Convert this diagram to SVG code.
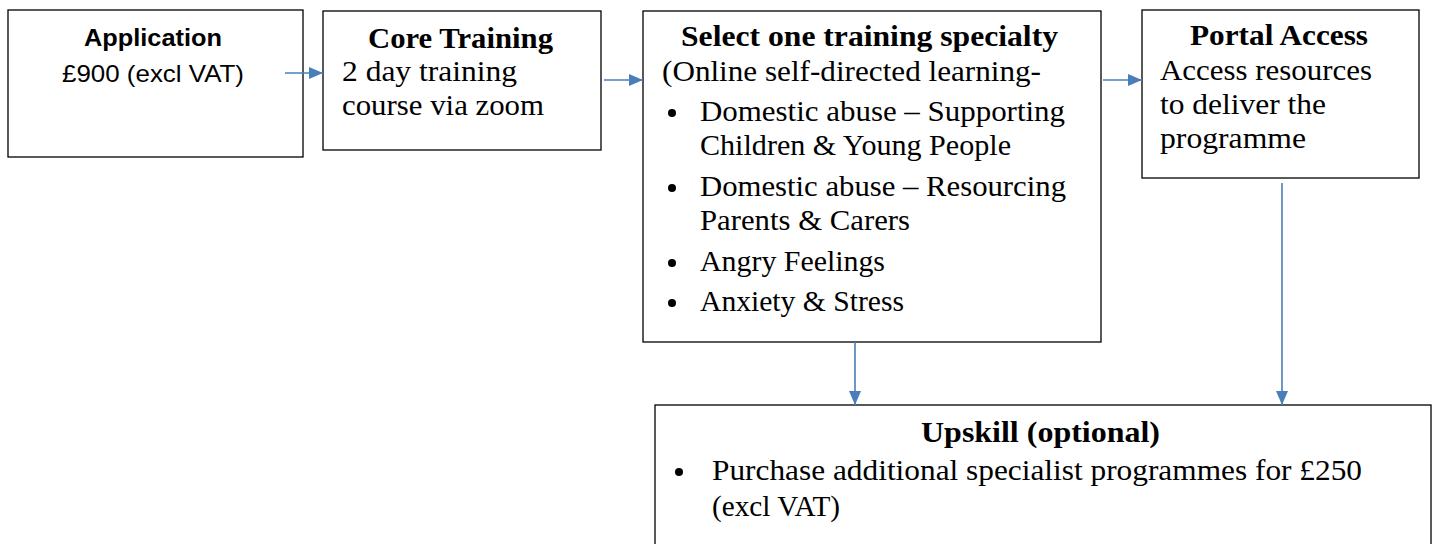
<svg xmlns="http://www.w3.org/2000/svg" width="1438" height="544" viewBox="0 0 1438 544">
<style>
.box{fill:#fff;stroke:#000;stroke-width:1.3}
.s{font-family:"Liberation Serif","DejaVu Serif",serif;font-size:29px;fill:#000}
.b{font-weight:bold}
.c{font-family:"Liberation Sans","DejaVu Sans",sans-serif;font-size:24px;fill:#000}
.con{stroke:#4A7EBB;stroke-width:1.6;fill:none;marker-end:url(#ah)}
</style>
<defs>
<marker id="ah" markerWidth="14" markerHeight="12" refX="14" refY="6" orient="auto" markerUnits="userSpaceOnUse">
<path d="M0,0 L14,6 L0,12 Z" fill="#4A7EBB"/>
</marker>
</defs>
<rect width="1438" height="544" fill="#fff"/>
<g id="application">
<rect class="box" x="8" y="10" width="295" height="147"/>
<text class="c b" x="84" y="46" textLength="138" lengthAdjust="spacingAndGlyphs">Application</text>
<text class="c" x="62" y="82" textLength="182" lengthAdjust="spacingAndGlyphs">£900 (excl VAT)</text>
</g>
<g id="core">
<rect class="box" x="323" y="11" width="278" height="139"/>
<text class="s b" x="368" y="48" textLength="185" lengthAdjust="spacingAndGlyphs">Core Training</text>
<text class="s" x="342" y="81" textLength="175" lengthAdjust="spacingAndGlyphs">2 day training</text>
<text class="s" x="342" y="115" textLength="202" lengthAdjust="spacingAndGlyphs">course via zoom</text>
</g>
<g id="select">
<rect class="box" x="643" y="11" width="458" height="331"/>
<text class="s b" x="681" y="46" textLength="377" lengthAdjust="spacingAndGlyphs">Select one training specialty</text>
<text class="s" x="662" y="81" textLength="379" lengthAdjust="spacingAndGlyphs">(Online self-directed learning-</text>
<circle cx="672" cy="113" r="4"/>
<text class="s" x="700" y="121" textLength="365" lengthAdjust="spacingAndGlyphs">Domestic abuse – Supporting</text>
<text class="s" x="700" y="155" textLength="311" lengthAdjust="spacingAndGlyphs">Children &amp; Young People</text>
<circle cx="672" cy="188" r="4"/>
<text class="s" x="700" y="196" textLength="366" lengthAdjust="spacingAndGlyphs">Domestic abuse – Resourcing</text>
<text class="s" x="700" y="230" textLength="210" lengthAdjust="spacingAndGlyphs">Parents &amp; Carers</text>
<circle cx="672" cy="263" r="4"/>
<text class="s" x="700" y="271" textLength="185" lengthAdjust="spacingAndGlyphs">Angry Feelings</text>
<circle cx="672" cy="303" r="4"/>
<text class="s" x="700" y="311" textLength="204" lengthAdjust="spacingAndGlyphs">Anxiety &amp; Stress</text>
</g>
<g id="portal">
<rect class="box" x="1142" y="10" width="277" height="168"/>
<text class="s b" x="1190" y="45" textLength="178" lengthAdjust="spacingAndGlyphs">Portal Access</text>
<text class="s" x="1160" y="80" textLength="212" lengthAdjust="spacingAndGlyphs">Access resources</text>
<text class="s" x="1160" y="114" textLength="166" lengthAdjust="spacingAndGlyphs">to deliver the</text>
<text class="s" x="1160" y="148" textLength="146" lengthAdjust="spacingAndGlyphs">programme</text>
</g>
<g id="upskill">
<rect class="box" x="655" y="405" width="776" height="160"/>
<text class="s b" x="921" y="442" textLength="239" lengthAdjust="spacingAndGlyphs">Upskill (optional)</text>
<circle cx="679" cy="472" r="4"/>
<text class="s" x="712" y="480" textLength="650" lengthAdjust="spacingAndGlyphs">Purchase additional specialist programmes for £250</text>
<text class="s" x="712" y="516" textLength="128" lengthAdjust="spacingAndGlyphs">(excl VAT)</text>
</g>
<g id="connectors">
<line class="con" x1="285" y1="73" x2="323" y2="73"/>
<line class="con" x1="604" y1="80" x2="643" y2="80"/>
<line class="con" x1="1103" y1="80" x2="1142" y2="80"/>
<line class="con" x1="855" y1="342" x2="855" y2="405"/>
<line class="con" x1="1282" y1="183" x2="1282" y2="405"/>
</g>
</svg>
